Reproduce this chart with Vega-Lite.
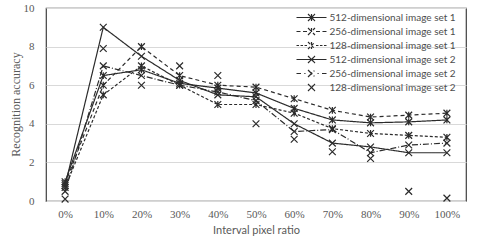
{
  "$schema": "https://vega.github.io/schema/vega-lite/v6.json",
  "width": 420,
  "height": 193,
  "autosize": "none",
  "padding": {"left": 46, "top": 8, "right": 14, "bottom": 39},
  "background": "white",
  "config": {"view": {"stroke": "#404040", "strokeWidth": 1.2}},
  "datasets": {
    "d": [
      {"series": "512-dimensional image set 1", "ratio": "0%", "acc": 1.0},
      {"series": "512-dimensional image set 1", "ratio": "10%", "acc": 6.5},
      {"series": "512-dimensional image set 1", "ratio": "20%", "acc": 6.8},
      {"series": "512-dimensional image set 1", "ratio": "30%", "acc": 6.1},
      {"series": "512-dimensional image set 1", "ratio": "40%", "acc": 5.85},
      {"series": "512-dimensional image set 1", "ratio": "50%", "acc": 5.6},
      {"series": "512-dimensional image set 1", "ratio": "60%", "acc": 4.8},
      {"series": "512-dimensional image set 1", "ratio": "70%", "acc": 4.2},
      {"series": "512-dimensional image set 1", "ratio": "80%", "acc": 4.05},
      {"series": "512-dimensional image set 1", "ratio": "90%", "acc": 4.1},
      {"series": "512-dimensional image set 1", "ratio": "100%", "acc": 4.2},
      {"series": "256-dimensional image set 1", "ratio": "0%", "acc": 0.9},
      {"series": "256-dimensional image set 1", "ratio": "10%", "acc": 6.0},
      {"series": "256-dimensional image set 1", "ratio": "20%", "acc": 8.0},
      {"series": "256-dimensional image set 1", "ratio": "30%", "acc": 6.5},
      {"series": "256-dimensional image set 1", "ratio": "40%", "acc": 6.0},
      {"series": "256-dimensional image set 1", "ratio": "50%", "acc": 5.9},
      {"series": "256-dimensional image set 1", "ratio": "60%", "acc": 5.3},
      {"series": "256-dimensional image set 1", "ratio": "70%", "acc": 4.7},
      {"series": "256-dimensional image set 1", "ratio": "80%", "acc": 4.35},
      {"series": "256-dimensional image set 1", "ratio": "90%", "acc": 4.45},
      {"series": "256-dimensional image set 1", "ratio": "100%", "acc": 4.55},
      {"series": "128-dimensional image set 1", "ratio": "0%", "acc": 0.7},
      {"series": "128-dimensional image set 1", "ratio": "10%", "acc": 5.5},
      {"series": "128-dimensional image set 1", "ratio": "20%", "acc": 7.0},
      {"series": "128-dimensional image set 1", "ratio": "30%", "acc": 6.0},
      {"series": "128-dimensional image set 1", "ratio": "40%", "acc": 5.0},
      {"series": "128-dimensional image set 1", "ratio": "50%", "acc": 5.0},
      {"series": "128-dimensional image set 1", "ratio": "60%", "acc": 4.55},
      {"series": "128-dimensional image set 1", "ratio": "70%", "acc": 3.75},
      {"series": "128-dimensional image set 1", "ratio": "80%", "acc": 3.5},
      {"series": "128-dimensional image set 1", "ratio": "90%", "acc": 3.4},
      {"series": "128-dimensional image set 1", "ratio": "100%", "acc": 3.3},
      {"series": "512-dimensional image set 2", "ratio": "0%", "acc": 0.8},
      {"series": "512-dimensional image set 2", "ratio": "10%", "acc": 9.0},
      {"series": "512-dimensional image set 2", "ratio": "20%", "acc": 7.5},
      {"series": "512-dimensional image set 2", "ratio": "30%", "acc": 6.25},
      {"series": "512-dimensional image set 2", "ratio": "40%", "acc": 5.5},
      {"series": "512-dimensional image set 2", "ratio": "50%", "acc": 5.4},
      {"series": "512-dimensional image set 2", "ratio": "60%", "acc": 4.0},
      {"series": "512-dimensional image set 2", "ratio": "70%", "acc": 3.0},
      {"series": "512-dimensional image set 2", "ratio": "80%", "acc": 2.8},
      {"series": "512-dimensional image set 2", "ratio": "90%", "acc": 2.5},
      {"series": "512-dimensional image set 2", "ratio": "100%", "acc": 2.5},
      {"series": "256-dimensional image set 2", "ratio": "0%", "acc": 0.5},
      {"series": "256-dimensional image set 2", "ratio": "10%", "acc": 7.0},
      {"series": "256-dimensional image set 2", "ratio": "20%", "acc": 6.5},
      {"series": "256-dimensional image set 2", "ratio": "30%", "acc": 6.0},
      {"series": "256-dimensional image set 2", "ratio": "40%", "acc": 5.65},
      {"series": "256-dimensional image set 2", "ratio": "50%", "acc": 5.2},
      {"series": "256-dimensional image set 2", "ratio": "60%", "acc": 3.6},
      {"series": "256-dimensional image set 2", "ratio": "70%", "acc": 3.7},
      {"series": "256-dimensional image set 2", "ratio": "80%", "acc": 2.5},
      {"series": "256-dimensional image set 2", "ratio": "90%", "acc": 2.9},
      {"series": "256-dimensional image set 2", "ratio": "100%", "acc": 3.0},
      {"series": "128-dimensional image set 2", "ratio": "0%", "acc": 0.1},
      {"series": "128-dimensional image set 2", "ratio": "10%", "acc": 7.9},
      {"series": "128-dimensional image set 2", "ratio": "20%", "acc": 6.0},
      {"series": "128-dimensional image set 2", "ratio": "30%", "acc": 7.0},
      {"series": "128-dimensional image set 2", "ratio": "40%", "acc": 6.5},
      {"series": "128-dimensional image set 2", "ratio": "50%", "acc": 4.0},
      {"series": "128-dimensional image set 2", "ratio": "60%", "acc": 3.2},
      {"series": "128-dimensional image set 2", "ratio": "70%", "acc": 2.55},
      {"series": "128-dimensional image set 2", "ratio": "80%", "acc": 2.2},
      {"series": "128-dimensional image set 2", "ratio": "90%", "acc": 0.5},
      {"series": "128-dimensional image set 2", "ratio": "100%", "acc": 0.15}
    ]
  },
  "data": {"name": "d"},
  "encoding": {
    "x": {
      "field": "ratio", "type": "ordinal",
      "sort": ["0%", "10%", "20%", "30%", "40%", "50%", "60%", "70%", "80%", "90%", "100%"],
      "scale": {"padding": 0.5},
      "axis": {
        "title": "Interval pixel ratio", "labelAngle": 0, "ticks": false, "domain": false, "grid": false,
        "labelFont": "Liberation Serif", "labelFontSize": 11, "labelColor": "#595959", "labelPadding": 7,
        "titleFont": "Lato", "titleFontSize": 11, "titleFontWeight": "normal", "titleColor": "#595959", "titlePadding": 5
      }
    },
    "y": {
      "field": "acc", "type": "quantitative",
      "scale": {"domain": [0, 10], "nice": false},
      "axis": {
        "title": "Recognition accuracy", "values": [0, 2, 4, 6, 8, 10], "ticks": false, "domain": false,
        "grid": true, "gridColor": "#d9d9d9", "gridWidth": 1,
        "labelFont": "Liberation Serif", "labelFontSize": 11, "labelColor": "#595959", "labelPadding": 12,
        "titleFont": "Liberation Serif", "titleFontSize": 12, "titleFontWeight": "normal", "titleColor": "#595959",
        "titleX": -24, "titleY": 96, "titleBaseline": "bottom"
      }
    }
  },
  "layer": [
    {
      "transform": [{"filter": "datum.series !== '128-dimensional image set 2'"}],
      "mark": {"type": "line", "strokeWidth": 1.2},
      "encoding": {
        "color": {
          "field": "series", "type": "nominal",
          "scale": {
            "domain": ["512-dimensional image set 1", "256-dimensional image set 1", "128-dimensional image set 1", "512-dimensional image set 2", "256-dimensional image set 2", "128-dimensional image set 2"],
            "range": ["#2b2b2b", "#2b2b2b", "#2b2b2b", "#2b2b2b", "#2b2b2b", "#2b2b2b"]
          },
          "legend": {
            "orient": "none", "legendX": 250, "legendY": 2.5, "title": null, "padding": 0,
            "symbolType": "stroke", "symbolSize": 144, "symbolStrokeWidth": 1.2, "symbolOffset": 8.5,
            "labelOffset": 11, "rowPadding": 1,
            "labelFont": "Lato", "labelFontSize": 10, "labelColor": "#4d4d4d",
            "encode": {
              "symbols": {
                "update": {
                  "shape": {"signal": "['M-2.5,0L2.5,0M-0.58,-0.58L0.58,0.58M-0.58,0.58L0.58,-0.58M0,-0.58L0,0.58', 'M-2.5,0L-1.83,0M-1.41,0L-0.75,0M0.75,0L1.41,0M1.83,0L2.5,0M-0.58,-0.58L0.58,0.58M-0.58,0.58L0.58,-0.58M0,-0.58L0,0.58', 'M-2.5,0L-2.08,0M-1.83,0L-1.41,0M-1.16,0L-0.75,0M0.75,0L1.16,0M1.41,0L1.83,0M2.08,0L2.5,0M-0.58,-0.58L0.58,0.58M-0.58,0.58L0.58,-0.58M0,-0.58L0,0.58', 'M-2.5,0L2.5,0M-0.58,-0.58L0.58,0.58M-0.58,0.58L0.58,-0.58', 'M-2.5,0L-1.75,0M-1.2,0L-1.0,0M1.0,0L1.2,0M1.75,0L2.5,0M-0.58,-0.58L0.58,0.58M-0.58,0.58L0.58,-0.58', 'M-0.58,-0.58L0.58,0.58M-0.58,0.58L0.58,-0.58'][datum.index]"},
                  "fill": {"value": "transparent"},
                  "stroke": {"value": "#2b2b2b"},
                  "strokeDash": {"value": []}
                }
              }
            }
          }
        },
        "strokeDash": {
          "field": "series", "type": "nominal",
          "scale": {
            "domain": ["512-dimensional image set 1", "256-dimensional image set 1", "128-dimensional image set 1", "512-dimensional image set 2", "256-dimensional image set 2", "128-dimensional image set 2"],
            "range": [[1, 0], [4, 3], [3, 2], [1, 0], [6, 2, 1, 2], [1, 0]]
          },
          "legend": null
        }
      }
    },
    {
      "transform": [{"filter": "indexof(datum.series, 'set 1') >= 0"}],
      "mark": {"type": "point", "filled": false, "strokeWidth": 1.2, "color": "#2b2b2b", "opacity": 1, "size": 46, "shape": "M-1,-1L1,1M-1,1L1,-1M0,-1L0,1"}
    },
    {
      "transform": [{"filter": "indexof(datum.series, 'set 2') >= 0"}],
      "mark": {"type": "point", "filled": false, "strokeWidth": 1.2, "color": "#2b2b2b", "opacity": 1, "size": 46, "shape": "M-1,-1L1,1M-1,1L1,-1"}
    }
  ]
}
